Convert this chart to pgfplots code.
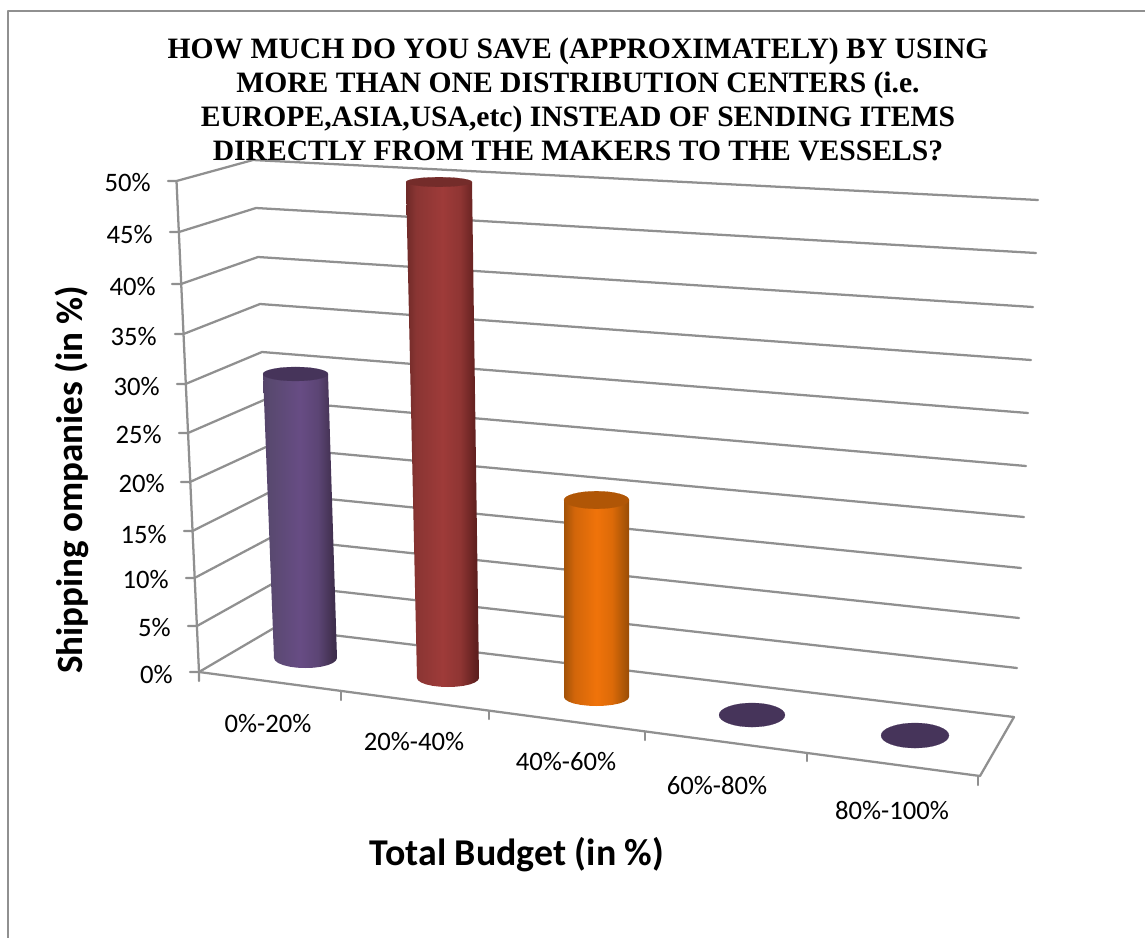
\documentclass[border=0pt]{standalone}
\usepackage{pgfplots}
\pgfplotsset{compat=1.18}
\usepackage{fontspec}
\setmainfont{Carlito}
\newfontfamily\titlefont{Liberation Serif}

\definecolor{gridgray}{HTML}{909090}
\definecolor{purpletop}{HTML}{46345A}
\definecolor{redtop}{HTML}{742C2A}
\definecolor{orangetop}{HTML}{B05606}

\definecolor{pA}{HTML}{544369}\definecolor{pB}{HTML}{594970}\definecolor{pC}{HTML}{674C84}
\definecolor{pD}{HTML}{5C4575}\definecolor{pE}{HTML}{41304F}\definecolor{pF}{HTML}{3B2C4C}
\definecolor{rA}{HTML}{6E2A28}\definecolor{rB}{HTML}{8A3533}\definecolor{rC}{HTML}{9E3B39}
\definecolor{rD}{HTML}{8F3533}\definecolor{rE}{HTML}{632120}\definecolor{rF}{HTML}{5A1E1D}
\definecolor{oA}{HTML}{A25208}\definecolor{oB}{HTML}{D2660A}\definecolor{oC}{HTML}{F0730A}
\definecolor{oD}{HTML}{DC6A08}\definecolor{oE}{HTML}{A85406}\definecolor{oF}{HTML}{994C05}

% Cylinder side shadings: the path's width spans 25bp to 75bp
\pgfdeclarehorizontalshading{purplecyl}{100bp}{
  color(0bp)=(pA); color(25bp)=(pA); color(30bp)=(pB);
  color(50bp)=(pC); color(62bp)=(pD); color(72bp)=(pE); color(75bp)=(pF); color(100bp)=(pF)}
\pgfdeclarehorizontalshading{redcyl}{100bp}{
  color(0bp)=(rA); color(25bp)=(rA); color(32bp)=(rB);
  color(50bp)=(rC); color(62bp)=(rD); color(72bp)=(rE); color(75bp)=(rF); color(100bp)=(rF)}
\pgfdeclarehorizontalshading{orangecyl}{100bp}{
  color(0bp)=(oA); color(25bp)=(oA); color(33bp)=(oB);
  color(50bp)=(oC); color(62bp)=(oD); color(72bp)=(oE); color(75bp)=(oF); color(100bp)=(oF)}

% Series values in percent, and each cylinder's height per percent at its depth
\def\valA{30}\def\valB{50}\def\valC{20}
\pgfmathsetmacro\topA{658-\valA*9.467}
\pgfmathsetmacro\topB{678-\valB*9.92}
\pgfmathsetmacro\topC{697-\valC*9.85}

\begin{document}
\begin{tikzpicture}
\path[use as bounding box] (0,0) rectangle (858.75pt,703.5pt);
\begin{axis}[
  at={(0,0)}, anchor=south west,
  scale only axis, width=858.75pt, height=703.5pt,
  xmin=0, xmax=1145, ymin=0, ymax=938, y dir=reverse,
  hide axis, clip=false,
  wire/.style={draw=gridgray, line width=1.7pt, line cap=round, line join=round, mark=none},
]
% outer chart frame
\addplot[wire] coordinates {(8,938)(8,11)(1145,11)};

% gridlines: tick, side wall, back wall for every 5 %
\addplot[wire] coordinates {(168,181)(176.5,181)(253,160)(1038,200)};
\addplot[wire] coordinates {(170,232)(179,232)(256,208)(1036,253)};
\addplot[wire] coordinates {(172,284)(181,284)(258,257)(1033,307)};
\addplot[wire] coordinates {(175,334)(183.5,334)(260,304)(1031,360)};
\addplot[wire] coordinates {(177,384)(185.5,384)(262,352)(1028,413)};
\addplot[wire] coordinates {(179,433)(188,433)(264,400)(1026,466)};
\addplot[wire] coordinates {(181,482)(190,482)(266,447)(1024,517)};
\addplot[wire] coordinates {(184,531)(192.5,531)(268,493)(1021,568)};
\addplot[wire] coordinates {(186,578)(194.5,578)(270,538)(1019,618)};
\addplot[wire] coordinates {(188,626)(197,626)(272,584)(1017,668)};
\addplot[wire] coordinates {(190,672)(199,672)(274,628)(1014,717)};

% value axis edge and floor outline
\addplot[wire] coordinates {(176.5,181)(199,672)(199,681)};
\addplot[wire] coordinates {(199,672)(980,776)(1014,717)};

% category ticks along the front floor edge
\addplot[wire] coordinates {(341,691)(341,700)};
\addplot[wire] coordinates {(489,711)(489,719)};
\addplot[wire] coordinates {(645,732)(645,740)};
\addplot[wire] coordinates {(807,753.5)(807,761)};
\addplot[wire] coordinates {(978,776)(978,785)};

% 0%-20%
\addplot[draw=none, mark=none, shade, shading=purplecyl] coordinates {(263,\topA)(274,658)(275.1,660.6)(278.2,663)(283.2,665.1)(289.75,666.7)(297.3,667.7)(305.5,668)(313.7,667.7)(321.25,666.7)(327.8,665.1)(332.8,663)(335.9,660.6)(337,658)(328,\topA)} -- cycle;
\addplot[only marks, mark=*, mark size=24.4pt, mark options={draw=purpletop, fill=purpletop, line width=0.1pt, yscale=0.215}] coordinates {(295.5,\topA)};

% 20%-40%
\addplot[draw=none, mark=none, shade, shading=redcyl] coordinates {(406,\topB)(417,678)(418.1,680.3)(421.2,682.5)(426.1,684.4)(432.5,685.8)(440,686.7)(448,687)(456,686.7)(463.5,685.8)(469.9,684.4)(474.8,682.5)(477.9,680.3)(479,678)(472,\topB)} -- cycle;
\addplot[only marks, mark=*, mark size=24.75pt, mark options={draw=redtop, fill=redtop, line width=0.1pt, yscale=0.145}] coordinates {(439,\topB)};

% 40%-60%
\addplot[draw=none, mark=none, shade, shading=orangecyl] coordinates {(564,\topC)(564,697)(565.1,699.3)(568.4,701.5)(573.5,703.4)(580.25,704.8)(588.1,705.7)(596.5,706)(604.9,705.7)(612.75,704.8)(619.5,703.4)(624.6,701.5)(627.9,699.3)(629,697)(629,\topC)} -- cycle;
\addplot[only marks, mark=*, mark size=24.4pt, mark options={draw=orangetop, fill=orangetop, line width=0.1pt, yscale=0.27}] coordinates {(596.5,\topC)};

% 60%-80% and 80%-100% stay flat on the floor
\addplot[only marks, mark=*, mark size=24.75pt, mark options={draw=purpletop, fill=purpletop, line width=0.1pt, yscale=0.364}] coordinates {(752,715)};
\addplot[only marks, mark=*, mark size=25.5pt, mark options={draw=purpletop, fill=purpletop, line width=0.1pt, yscale=0.368}] coordinates {(915,735.5)};

% value labels
\tikzset{vlab/.style={anchor=east, font=\fontsize{20pt}{22pt}\selectfont, inner sep=0pt},
         clab/.style={anchor=center, font=\fontsize{20pt}{22pt}\selectfont, inner sep=0pt}}
\node[vlab] at (axis cs:151,183) {50\%};
\node[vlab] at (axis cs:153,235) {45\%};
\node[vlab] at (axis cs:156,287) {40\%};
\node[vlab] at (axis cs:157,337) {35\%};
\node[vlab] at (axis cs:160,387) {30\%};
\node[vlab] at (axis cs:162,435) {25\%};
\node[vlab] at (axis cs:165,484) {20\%};
\node[vlab] at (axis cs:167,535) {15\%};
\node[vlab] at (axis cs:169,580) {10\%};
\node[vlab] at (axis cs:171,628) {5\%};
\node[vlab] at (axis cs:173,675) {0\%};

% category labels
\node[clab] at (axis cs:268,724) {0\%-20\%};
\node[clab] at (axis cs:414,742) {20\%-40\%};
\node[clab] at (axis cs:566,762) {40\%-60\%};
\node[clab] at (axis cs:717,785) {60\%-80\%};
\node[clab] at (axis cs:892,810) {80\%-100\%};

% axis titles
\node[anchor=center, inner sep=0pt, font=\fontsize{28.4pt}{30pt}\selectfont\bfseries] at (axis cs:517,855) {Total Budget (in \%)};
\node[anchor=center, inner sep=0pt, rotate=90, font=\fontsize{27.8pt}{30pt}\selectfont\bfseries] at (axis cs:72,480) {Shipping ompanies (in \%)};

% chart title
\node[anchor=center, align=center, inner sep=0pt, font=\titlefont\fontsize{22.2pt}{25.5pt}\selectfont\bfseries] at (axis cs:578,99)
  {HOW MUCH DO YOU SAVE (APPROXIMATELY) BY USING\\
   MORE THAN ONE DISTRIBUTION CENTERS (i.e.\\
   EUROPE,ASIA,USA,etc) INSTEAD OF SENDING ITEMS\\
   DIRECTLY FROM THE MAKERS TO THE VESSELS?};
\end{axis}
\end{tikzpicture}
\end{document}
